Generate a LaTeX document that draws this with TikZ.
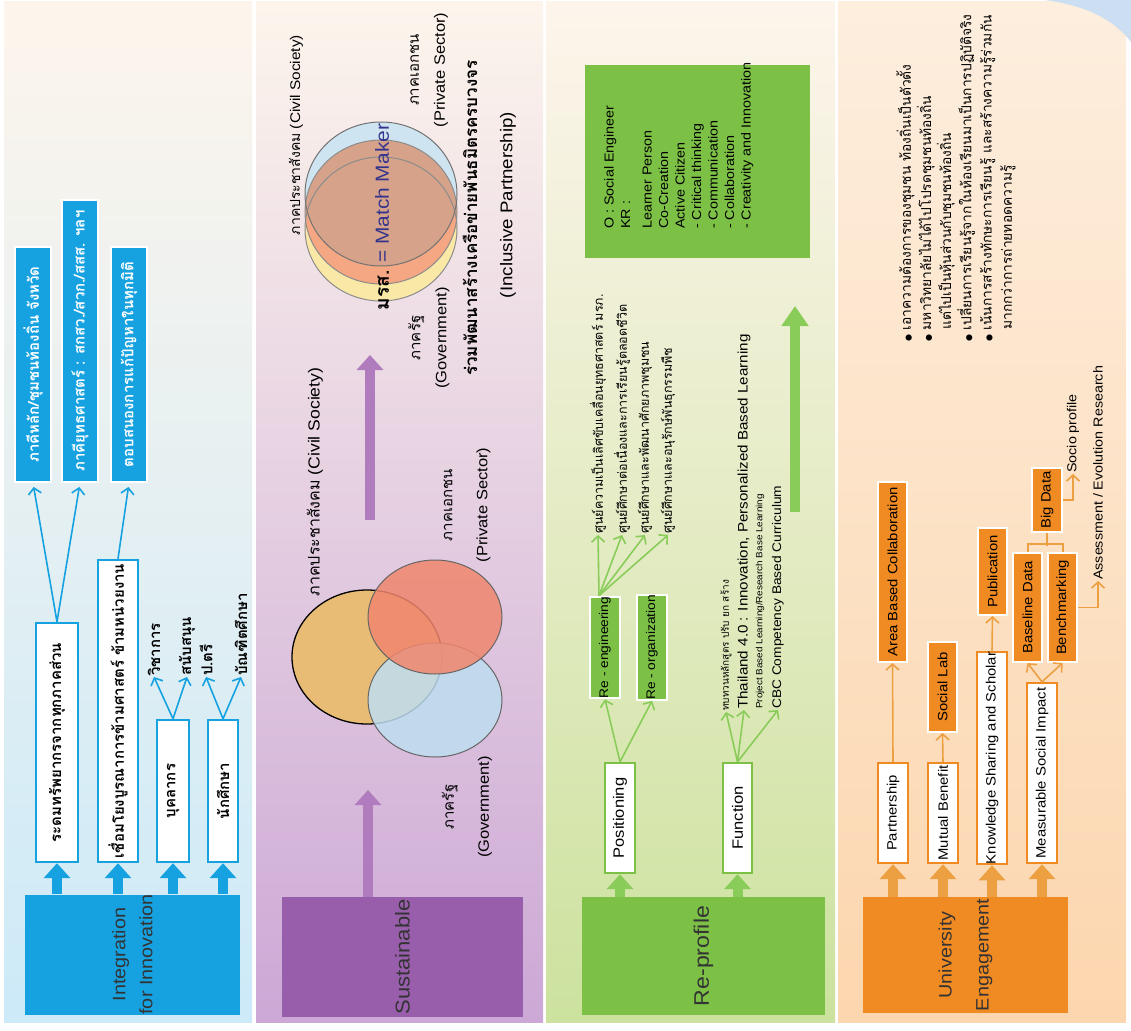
\documentclass[tikz,border=0pt]{standalone}
\usepackage{fontspec}
\setmainfont{Liberation Sans}[FakeStretch=1.1]
\newfontfamily\thai[Script=Thai]{Loma}
\newfontfamily\dejavu{DejaVu Sans}
\usetikzlibrary{calc}
\usetikzlibrary{arrows.meta}
\usetikzlibrary{positioning}

\definecolor{iblue}{RGB}{22,162,225}
\definecolor{ipurple}{RGB}{152,94,172}
\definecolor{ipurplel}{RGB}{176,124,190}
\definecolor{igreen}{RGB}{124,192,70}
\definecolor{igreenl}{RGB}{138,204,90}
\definecolor{iorange}{RGB}{240,138,34}
\definecolor{iorangel}{RGB}{236,160,66}
\definecolor{bandtop}{RGB}{253,245,236}
\definecolor{bandmid}{RGB}{249,236,222}
\definecolor{bluebot}{RGB}{204,234,248}
\definecolor{purplemid}{RGB}{238,214,222}
\definecolor{purplebot}{RGB}{204,168,214}
\definecolor{greenmid}{RGB}{240,236,206}
\definecolor{greenbot}{RGB}{204,226,158}
\definecolor{orangetop}{RGB}{253,238,222}
\definecolor{orangebot}{RGB}{252,214,174}
\definecolor{vtan}{RGB}{233,188,118}
\definecolor{vred}{RGB}{240,134,110}
\definecolor{vblue}{RGB}{190,222,240}
\definecolor{vyellow}{RGB}{250,232,166}
\definecolor{vsalmon}{RGB}{245,166,130}
\definecolor{vsky}{RGB}{206,228,240}
\definecolor{vbrown}{RGB}{214,162,138}
\definecolor{navy}{RGB}{52,52,140}
\definecolor{swoosh}{RGB}{204,222,242}

\tikzset{
  mainbox/.style={rotate=90, fill=#1, inner sep=0pt, align=center,
    font=\fontsize{18}{24}\selectfont, text=black!80},
  whitebox/.style={rotate=90, fill=white, draw=#1, line width=2.4pt,
    inner sep=0pt, text=black},
  tagbox/.style={rotate=90, fill=#1, draw=white, line width=2pt, inner sep=0pt},
  note/.style={rotate=90, inner sep=1pt, align=center},
  fatarrow/.style={draw=#1, line width=10pt, -{Triangle[length=15pt,width=26pt]}},
  thinarrow/.style={draw=#1, line width=1.6pt, -{Straight Barb[length=6pt,width=13pt]}},
}

\begin{document}
\begin{tikzpicture}[x=1pt, y=-1pt]
\useasboundingbox (0,0) rectangle (1131,1030);

% bands
\shade[top color=bandtop, middle color=bandmid, bottom color=bluebot] (4,2) rectangle (252,1022);
\shade[top color=bandtop, middle color=purplemid, bottom color=purplebot] (256,2) rectangle (543,1022);
\shade[top color=bandtop, middle color=greenmid, bottom color=greenbot] (546,2) rectangle (835,1022);
\shade[top color=orangetop, bottom color=orangebot] (838,2) rectangle (1126,1022);
\fill[swoosh] (1045,0) .. controls (1088,6) and (1114,20) .. (1131,42) -- (1131,0) -- cycle;

% Integration for Innovation
\node[mainbox=iblue, minimum width=115pt, minimum height=215pt, font=\fontsize{18}{27}\selectfont] (integ) at (132.5,954.5) {Integration\\for Innovation};
\node[whitebox=iblue, minimum width=239pt, minimum height=42pt, font=\thai\bfseries\fontsize{15}{17}\selectfont] (mobil) at (57,742.5) {ระดมทรัพยากรจากทุกภาคส่วน};
\node[whitebox=iblue, minimum width=302pt, minimum height=40pt, font=\thai\bfseries\fontsize{15}{17}\selectfont] (link) at (118,711) {เชื่อมโยงบูรณาการข้ามศาสตร์ ข้ามหน่วยงาน};
\node[whitebox=iblue, minimum width=142pt, minimum height=32pt, font=\thai\bfseries\fontsize{15}{17}\selectfont] (staff) at (173,791) {บุคลากร};
\node[whitebox=iblue, minimum width=142pt, minimum height=30pt, font=\thai\bfseries\fontsize{15}{17}\selectfont] (student) at (223,791) {นักศึกษา};
\node[tagbox=iblue, minimum width=235pt, minimum height=36pt, text=white, font=\thai\bfseries\fontsize{15}{17}\selectfont] (partner1) at (33,364.5) {ภาคีหลัก/ชุมชนท้องถิ่น จังหวัด};
\node[tagbox=iblue, minimum width=282pt, minimum height=36pt, text=white, font=\thai\bfseries\fontsize{15}{17}\selectfont] (partner2) at (80,341) {ภาคียุทธศาสตร์ : สกสว./สวก./สสส. ฯลฯ};
\node[tagbox=iblue, minimum width=235pt, minimum height=36pt, text=white, font=\thai\bfseries\fontsize{15}{17}\selectfont] (respond) at (129,364.5) {ตอบสนองการแก้ปัญหาในทุกมิติ};
\node[note, anchor=west, font=\thai\bfseries\fontsize{15}{17}\selectfont] (acad) at (154,677) {วิชาการ};
\node[note, anchor=west, font=\thai\bfseries\fontsize{15}{17}\selectfont] (support) at (187,677) {สนับสนุน};
\node[note, anchor=west, font=\thai\bfseries\fontsize{15}{17}\selectfont] (bach) at (206,677) {ป.ตรี};
\node[note, anchor=west, font=\thai\bfseries\fontsize{15}{17}\selectfont] (grad) at (241,677) {บัณฑิตศึกษา};

\foreach \b in {mobil,link,staff,student}
  \draw[fatarrow=iblue] (\b.west |- integ.east) -- (\b.west);
\draw[thinarrow=iblue, shorten >=4pt] (mobil.east) -- (partner1.west);
\draw[thinarrow=iblue, shorten >=4pt] (mobil.east) -- (partner2.west);
\draw[thinarrow=iblue, shorten >=4pt] (link.east) -- (respond.west);
\draw[thinarrow=iblue] (staff.east) -- (acad.west);
\draw[thinarrow=iblue] (staff.east) -- (support.west);
\draw[thinarrow=iblue] (student.east) -- (bach.west);
\draw[thinarrow=iblue] (student.east) -- (grad.west);

% Sustainable
\node[mainbox=ipurple, minimum width=120pt, minimum height=241pt, font=\fontsize{20}{24}\selectfont] (sustain) at (402.5,957) {Sustainable};
\coordinate (firsttip) at (368,790);
\coordinate (secondfoot) at (370,520);
\coordinate (secondtip) at (370,355);
\draw[fatarrow=ipurplel] (firsttip |- sustain.east) -- (firsttip);
\draw[fatarrow=ipurplel] (secondfoot) -- (secondtip);

\fill[vtan] (367,657) ellipse [x radius=75pt, y radius=67pt];
\draw[black, line width=1.3pt] (367,657) ellipse [x radius=75pt, y radius=67pt];
\fill[vblue, fill opacity=.85] (435,700) ellipse [x radius=67pt, y radius=57pt];
\draw[black!60, line width=1pt] (435,700) ellipse [x radius=67pt, y radius=57pt];
\fill[vred, fill opacity=.85] (435,617) ellipse [x radius=67pt, y radius=57pt];
\draw[black!60, line width=1pt] (435,617) ellipse [x radius=67pt, y radius=57pt];

\node[note, font=\fontsize{16}{18}\selectfont] (civil1) at (315,482) {{\thai ภาคประชาสังคม} (Civil Society)};
\node[note, font=\fontsize{15}{35}\selectfont] (private1) at (467,505) {{\thai ภาคเอกชน}\\(Private Sector)};
\node[note, font=\fontsize{15}{35}\selectfont] (gov1) at (467,807) {{\thai ภาครัฐ}\\(Government)};

\fill[vyellow] (381,229) ellipse [x radius=76pt, y radius=72pt];
\fill[vsalmon] (381,212) ellipse [x radius=76pt, y radius=72pt];
\fill[vsky] (381,194) ellipse [x radius=76pt, y radius=72pt];
\begin{scope}
  \clip (381,194) ellipse [x radius=76pt, y radius=72pt];
  \fill[vbrown] (381,212) ellipse [x radius=76pt, y radius=72pt];
\end{scope}
\draw[black!45, line width=1pt] (381,229) ellipse [x radius=76pt, y radius=72pt];
\draw[black!45, line width=1pt] (381,212) ellipse [x radius=76pt, y radius=72pt];
\draw[black!55, line width=1pt] (381,194) ellipse [x radius=76pt, y radius=72pt];

\node[note, font=\fontsize{19}{22}\selectfont] (match) at (382,217) {{\thai\bfseries มรส.} \textcolor{navy}{= Match Maker}};
\node[note, font=\fontsize{14}{18}\selectfont] (civil2) at (296,135) {{\thai ภาคประชาสังคม} (Civil Society)};
\node[note, font=\fontsize{15}{26}\selectfont] (private2) at (429,70) {{\thai ภาคเอกชน}\\(Private Sector)};
\node[note, font=\fontsize{15}{26}\selectfont] (gov2) at (429,338) {{\thai ภาครัฐ}\\(Government)};
\node[note, font=\thai\bfseries\fontsize{17}{20}\selectfont] (network) at (470,218) {ร่วมพัฒนาสร้างเครือข่ายพันธมิตรครบวงจร};
\node[note, font=\fontsize{17}{20}\selectfont] (inclusive) at (508,205) {(Inclusive Partnership)};

% Re-profile
\node[mainbox=igreen, minimum width=118pt, minimum height=243pt, font=\fontsize{21}{24}\selectfont] (reprof) at (703.5,956) {Re-profile};
\node[whitebox=igreen, minimum width=110pt, minimum height=30pt, font=\fontsize{15}{17}\selectfont] (posit) at (620,818) {Positioning};
\node[whitebox=igreen, minimum width=110pt, minimum height=29pt, font=\fontsize{15}{17}\selectfont] (funct) at (737.5,818) {Function};
\node[tagbox=igreen, minimum width=95pt, minimum height=30pt, font=\fontsize{12.5}{14}\selectfont] (reeng) at (605,647.5) {Re - engineering};
\node[tagbox=igreen, minimum width=95pt, minimum height=30pt, font=\fontsize{12.5}{14}\selectfont] (reorg) at (652,647.5) {Re - organization};
\node[note, anchor=west, font=\thai\fontsize{12.5}{14}\selectfont] (centre1) at (598,535) {ศูนย์ความเป็นเลิศขับเคลื่อนยุทธศาสตร์ มรภ.};
\node[note, anchor=west, font=\thai\fontsize{12.5}{14}\selectfont] (centre2) at (622,535) {ศูนย์ศึกษาต่อเนื่องและการเรียนรู้ตลอดชีวิต};
\node[note, anchor=west, font=\thai\fontsize{12.5}{14}\selectfont] (centre3) at (645,535) {ศูนย์ศึกษาและพัฒนาศักยภาพชุมชน};
\node[note, anchor=west, font=\thai\fontsize{12.5}{14}\selectfont] (centre4) at (668,535) {ศูนย์ศึกษาและอนุรักษ์พันธุกรรมพืช};
\node[note, anchor=west, font=\thai\fontsize{10}{12}\selectfont] (revise) at (726,712) {ทบทวนหลักสูตร ปรับ ยก สร้าง};
\node[note, anchor=west, font=\fontsize{13.8}{15}\selectfont] (thai40) at (744,710) {Thailand 4.0 : Innovation, Personalized Based Learning};
\node[note, anchor=west, font=\fontsize{9}{11}\selectfont] (pbl) at (760,710) {Project Based Learning/Research Base Learning};
\node[note, anchor=west, font=\fontsize{12.5}{15}\selectfont] (cbc) at (778,710) {CBC Competency Based Curriculum};
\node[rotate=90, fill=igreen, minimum width=193pt, minimum height=225pt] (okr) at (697.5,161.5) {};
\node[rotate=90, anchor=north west, align=left, inner sep=0pt, font=\fontsize{13}{16.5}\selectfont] (okrtext) at (604,229) {O : Social Engineer\\KR :\\[5pt]Learner Person\\Co-Creation\\Active Citizen\\- Critical thinking\\- Communication\\- Collaboration\\- Creativity and Innovation};
\coordinate (greenfoot) at (795,512);
\coordinate (greentip) at (795,306);

\foreach \b in {posit,funct}
  \draw[fatarrow=igreenl] (\b.west |- reprof.east) -- (\b.west);
\draw[thinarrow=igreenl] (posit.east) -- (reeng.west);
\draw[thinarrow=igreenl] (posit.east) -- (reorg.west);
\foreach \c in {centre1,centre2,centre3,centre4}
  \draw[thinarrow=igreenl] ([xshift=-6pt]reeng.east) -- (\c.west);
\foreach \c in {revise,thai40,cbc}
  \draw[thinarrow=igreenl] (funct.east) -- (\c.west);
\draw[fatarrow=igreenl, -{Triangle[length=20pt,width=26pt]}] (greenfoot) -- (greentip);

% University Engagement
\node[mainbox=iorange, minimum width=116pt, minimum height=205pt, font=\fontsize{18}{37}\selectfont] (engage) at (965.5,955) {University\\Engagement};
\node[whitebox=iorange, minimum width=100pt, minimum height=30pt, font=\fontsize{13.5}{15}\selectfont] (partn) at (893,813) {Partnership};
\node[whitebox=iorange, minimum width=100pt, minimum height=30pt, font=\fontsize{13.5}{15}\selectfont] (mutual) at (943,813) {Mutual Benefit};
\node[whitebox=iorange, minimum width=210pt, minimum height=30pt, font=\fontsize{13.5}{15}\selectfont] (knowl) at (992,758) {Knowledge Sharing and Scholar};
\node[whitebox=iorange, minimum width=180pt, minimum height=30pt, font=\fontsize{13.5}{15}\selectfont] (measur) at (1042,773) {Measurable Social Impact};
\node[tagbox=iorange, minimum width=180pt, minimum height=29pt, font=\fontsize{13.5}{15}\selectfont] (area) at (892.5,572) {Area Based Collaboration};
\node[tagbox=iorange, minimum width=90pt, minimum height=29pt, font=\fontsize{13.5}{15}\selectfont] (slab) at (942.5,687) {Social Lab};
\node[tagbox=iorange, minimum width=87pt, minimum height=29pt, font=\fontsize{13.5}{15}\selectfont] (publ) at (992.5,571.5) {Publication};
\node[tagbox=iorange, minimum width=109pt, minimum height=29pt, font=\fontsize{13.5}{15}\selectfont] (basel) at (1027.5,607.5) {Baseline Data};
\node[tagbox=iorange, minimum width=109pt, minimum height=29pt, font=\fontsize{13.5}{15}\selectfont] (bench) at (1062.5,607.5) {Benchmarking};
\node[tagbox=iorange, minimum width=64pt, minimum height=30pt, font=\fontsize{13.5}{15}\selectfont] (bigd) at (1047,500) {Big Data};
\node[note, anchor=west, font=\fontsize{13}{15}\selectfont] (socio) at (1073,474) {Socio profile};
\node[note, anchor=west, font=\fontsize{13}{15}\selectfont] (assess) at (1098,581) {Assessment / Evolution Research};
\node[rotate=90, anchor=north west, align=left, inner sep=0pt, font=\thai\fontsize{13.8}{20.2}\selectfont] (aims) at (896,342)
  {{\dejavu\footnotesize●} เอาความต้องการของชุมชน ท้องถิ่นเป็นตัวตั้ง\\
   {\dejavu\footnotesize●} มหาวิทยาลัยไม่ได้ไปโปรดชุมชนท้องถิ่น\\
   \hspace*{12pt}แต่ไปเป็นหุ้นส่วนกับชุมชนท้องถิ่น\\
   {\dejavu\footnotesize●} เปลี่ยนการเรียนรู้จากในห้องเรียนมาเป็นการปฏิบัติจริง\\
   {\dejavu\footnotesize●} เน้นการสร้างทักษะการเรียนรู้ และสร้างความรู้ร่วมกัน\\
   \hspace*{12pt}มากกว่าการถ่ายทอดความรู้};

\foreach \b in {partn,mutual,knowl,measur}
  \draw[fatarrow=iorangel] (\b.west |- engage.east) -- (\b.west);
\draw[thinarrow=iorangel] (partn.east) -- (area.west);
\draw[thinarrow=iorangel] (mutual.east) -- (slab.west);
\draw[thinarrow=iorangel] (knowl.east) -- (publ.west);
\draw[thinarrow=iorangel] (measur.east) -- (basel.west);
\draw[thinarrow=iorangel] (measur.east) -- (bench.west);
\draw[iorangel, line width=2pt] (basel.east) -- ++(0,-8) -| (bench.east);
\draw[iorangel, line width=2pt] (bigd.west) -- ++(0,13);
\draw[thinarrow=iorangel] (bigd.south) -| (socio.west);
\draw[thinarrow=iorangel] (bench.south) -| (assess.west);
\end{tikzpicture}
\end{document}
